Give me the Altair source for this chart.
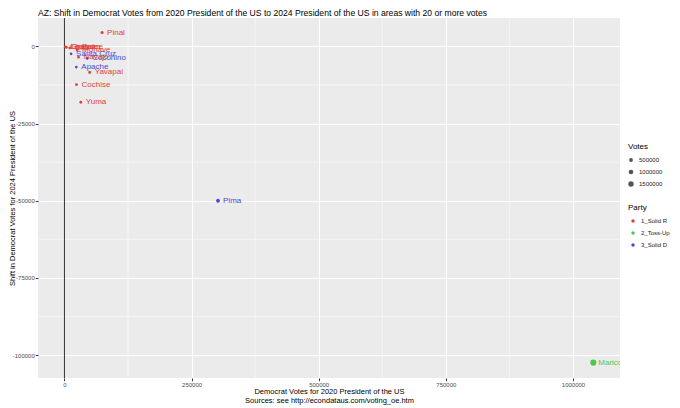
import altair as alt
import pandas as pd

# ---- data ----
counties = ["Apache", "Cochise", "Coconino", "Gila", "Graham", "Greenlee", "La Paz",
            "Maricopa", "Mohave", "Navajo", "Pima", "Pinal", "Santa Cruz", "Yavapai", "Yuma"]
dem2020 = [23300, 23700, 44700, 10600, 4000, 1200, 2200,
           1040000, 24800, 27700, 302000, 74000, 13100, 49600, 32200]
shift = [-6700, -12400, -3900, -500, -300, -100, -200,
         -102400, -1200, -3500, -50000, 4500, -2400, -8400, -18100]
party = ["3_Solid D", "1_Solid R", "3_Solid D", "1_Solid R", "1_Solid R", "1_Solid R", "1_Solid R",
         "2_Toss-Up", "1_Solid R", "1_Solid R", "3_Solid D", "1_Solid R", "3_Solid D", "1_Solid R", "1_Solid R"]
votes = [34000, 60000, 72000, 29000, 16000, 4000, 8000,
         2070000, 105000, 52000, 520000, 180000, 19000, 146000, 71000]

x_ticks = [0, 250000, 500000, 750000, 1000000]
y_ticks = [0, -25000, -50000, -75000, -100000]
x_minor = [125000, 375000, 625000, 875000]
y_minor = [-12500, -37500, -62500, -87500]
zero_line = [0]
size_legend = [500000, 1000000, 1500000]
party_names = ["1_Solid R", "2_Toss-Up", "3_Solid D"]
party_colors = ["#E0403C", "#4CC94C", "#4A4AD8"]

df = pd.DataFrame({"county": counties, "dem2020": dem2020, "shift": shift,
                   "party": party, "votes": votes})

FONT = "Liberation Sans"
X_DOMAIN = [-52000, 1092500]
Y_DOMAIN = [-107400, 9200]
W, H = 582, 360

xs = alt.Scale(domain=X_DOMAIN, nice=False, zero=False)
ys = alt.Scale(domain=Y_DOMAIN, nice=False, zero=False)

x_axis = alt.Axis(values=x_ticks, labelExpr="'' + datum.value",
                  title=["Democrat Votes for 2020 President of the US",
                         "Sources: see http://econdataus.com/voting_oe.htm"],
                  titleX=W / 2, titleY=9, titleBaseline="top", titleAlign="center",
                  titleLineHeight=9, labelPadding=1)
y_axis = alt.Axis(values=y_ticks, labelExpr="'' + datum.value",
                  title="Shift in Democrat Votes for 2024 President of the US",
                  titleX=-25.5, titleY=H / 2, titleAngle=270, titleAlign="center",
                  titleBaseline="middle", labelPadding=1)

color_enc = alt.Color("party:N", scale=alt.Scale(domain=party_names, range=party_colors),
                      legend=alt.Legend(title="Party", orient="none", legendX=590, legendY=186,
                                        symbolType="circle", symbolSize=12, symbolOffset=2,
                                        titlePadding=6, rowPadding=6, labelOffset=5))
size_enc = alt.Size("votes:Q",
                    scale=alt.Scale(domain=[min(votes), max(votes)], range=[7, 38], zero=False),
                    legend=alt.Legend(title="Votes", values=size_legend, format="d", orient="none",
                                      legendX=590, legendY=125, symbolType="circle",
                                      symbolFillColor="#555555", symbolStrokeWidth=0,
                                      symbolOffset=0, titlePadding=6, rowPadding=6,
                                      labelOffset=5))

minor_v = alt.Chart(pd.DataFrame({"dem2020": x_minor})).mark_rule(
    color="white", strokeWidth=0.5).encode(x=alt.X("dem2020:Q", scale=xs, axis=x_axis))
minor_h = alt.Chart(pd.DataFrame({"shift": y_minor})).mark_rule(
    color="white", strokeWidth=0.5).encode(y=alt.Y("shift:Q", scale=ys, axis=y_axis))
vline = alt.Chart(pd.DataFrame({"dem2020": zero_line})).mark_rule(
    color="#333333", strokeWidth=1).encode(x=alt.X("dem2020:Q", scale=xs, axis=x_axis))

base = alt.Chart(df)
points = base.mark_circle(opacity=1).encode(
    x=alt.X("dem2020:Q", scale=xs, axis=x_axis),
    y=alt.Y("shift:Q", scale=ys, axis=y_axis),
    color=color_enc,
    size=size_enc,
)
labels = base.mark_text(align="left", baseline="middle", dx=5, fontSize=8,
                        font=FONT, clip=True).encode(
    x=alt.X("dem2020:Q", scale=xs, axis=x_axis),
    y=alt.Y("shift:Q", scale=ys, axis=y_axis),
    text="county:N",
    color=color_enc,
)

chart = alt.layer(minor_v, minor_h, vline, points, labels).properties(
    width=W, height=H,
    title=alt.TitleParams(
        "AZ: Shift in Democrat Votes from 2020 President of the US to 2024 President of the US in areas with 20 or more votes",
        anchor="start", frame="group", font=FONT, fontSize=8.6, fontWeight="normal",
        color="black", offset=0),
    autosize=alt.AutoSizeParams(type="none"),
    padding={"left": 30, "top": 10, "right": 52, "bottom": 30},
).configure_view(fill="#EBEBEB", stroke=None).configure_axis(
    labelFont=FONT, labelFontSize=6, labelColor="#4D4D4D",
    titleFont=FONT, titleFontSize=7.5, titleColor="black", titleFontWeight="normal",
    tickColor="#333333", tickSize=2.7, tickWidth=1, domain=False,
    gridColor="white", gridWidth=1,
).configure_legend(
    titleFont=FONT, titleFontSize=8, titleFontWeight="normal", titleColor="black",
    labelFont=FONT, labelFontSize=6, labelColor="#222222", padding=0,
)

chart.save("out.html", embed_options={"renderer": "svg", "actions": False})
